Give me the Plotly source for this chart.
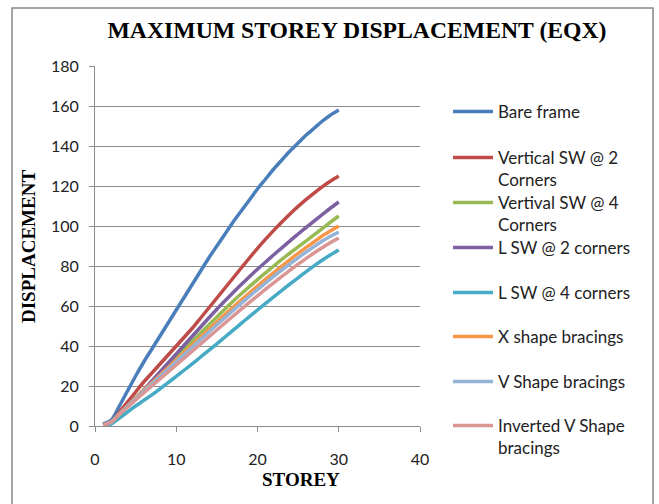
import plotly.graph_objects as go

storey = list(range(1, 31))

bare_frame = [1, 3, 10, 17.5, 25, 32, 38.5, 45, 51.5, 58, 64.5, 71, 77.5, 84, 90, 96, 102, 107.5, 113, 118.5,
              123.5, 128.5, 133, 137.5, 141.5, 145.5, 149, 152.5, 155.5, 158]
vert_sw_2 = [0.5, 2, 7, 12, 17, 22, 26.5, 31, 35.5, 40, 44.5, 49, 54, 59, 64, 69, 74, 79, 84, 88.8,
             93.4, 97.8, 102, 106, 109.8, 113.3, 116.6, 119.7, 122.5, 125]
vert_sw_4 = [0.5, 2, 6, 10, 14, 18, 22, 26, 30, 34.3, 38.4, 42.5, 46.5, 50.5, 54.5, 58.5, 62.4, 66.1, 69.7, 73.2,
             76.6, 80, 83.3, 86.5, 89.6, 92.6, 95.7, 98.8, 102, 105]
l_sw_2 = [0.5, 2, 6, 10, 14, 18, 22.5, 27, 31.5, 36, 40.5, 45, 49.5, 54, 58.4, 62.6, 66.7, 70.7, 74.6, 78.4,
          82, 85.6, 89.1, 92.6, 96, 99.3, 102.6, 105.8, 109, 112]
l_sw_4 = [0, 1, 4, 7, 10, 12.8, 15.6, 18.6, 21.7, 24.8, 28, 31.2, 34.5, 37.8, 41.1, 44.5, 47.9, 51.3, 54.7, 58,
          61.3, 64.6, 67.8, 71, 74.1, 77.2, 80.2, 83, 85.6, 88]
x_brace = [0.5, 2, 6, 10, 14, 17.8, 21.6, 25.4, 29.2, 33, 36.8, 40.6, 44.4, 48.2, 52, 55.7, 59.4, 63, 66.5, 70,
           73.4, 76.7, 80, 83.2, 86.3, 89.3, 92.2, 95.1, 97.6, 100]
v_brace = [0.5, 2, 6, 9.8, 13.6, 17.3, 21, 24.7, 28.4, 32.1, 35.8, 39.5, 43.2, 46.9, 50.6, 54.2, 57.8, 61.3, 64.8, 68.2,
           71.5, 74.8, 78, 81.1, 84.1, 87, 89.8, 92.5, 94.9, 97]
inv_v_brace = [0.5, 2, 5.8, 9.4, 13, 16.5, 20, 23.5, 27, 30.5, 34, 37.5, 41, 44.5, 48, 51.5, 55, 58.4, 61.8, 65.1,
               68.4, 71.6, 74.8, 77.9, 80.9, 83.8, 86.6, 89.2, 91.7, 94]

series_names = ["Bare frame", "Vertical SW @ 2<br>Corners", "Vertival SW @ 4<br>Corners",
                "L SW @ 2 corners", "L SW @ 4 corners", "X shape bracings",
                "V Shape bracings", "Inverted V Shape<br>bracings"]
series_values = [bare_frame, vert_sw_2, vert_sw_4, l_sw_2, l_sw_4, x_brace, v_brace, inv_v_brace]
colors = ["#4A7EBB", "#BE4B48", "#98B954", "#7D60A0", "#46AAC5", "#F79646", "#95B3D7", "#D99694"]

title_text = "MAXIMUM STOREY DISPLACEMENT (EQX)"
x_title = "STOREY"
y_title = "DISPLACEMENT"

# plot-area pixel geometry (for converting paper coords)
L, R, T, B = 95, 420, 66, 426
W, H = 659, 504

def px(x):
    return (x - L) / (R - L)

def py(y):
    return (B - y) / (B - T)

legend_line_y = [111, 157, 202, 247, 292, 336, 381, 425]

fig = go.Figure()
for i, (name, vals, col) in enumerate(zip(series_names, series_values, colors)):
    lg = "legend" if i == 0 else f"legend{i+1}"
    fig.add_trace(go.Scatter(x=storey, y=vals, name=name, mode="lines",
                             line=dict(color=col, width=3.5, shape="spline", smoothing=0.8),
                             legend=lg, showlegend=True))

leg_font = dict(family="Lato, Calibri, sans-serif", size=17, color="#222222")
layout_legends = {}
for i, ly in enumerate(legend_line_y):
    key = "legend" if i == 0 else f"legend{i+1}"
    layout_legends[key] = dict(x=px(448), y=py(ly - 17), xanchor="left", yanchor="top",
                               bgcolor="rgba(0,0,0,0)", font=leg_font, valign="top",
                               itemwidth=40, tracegroupgap=0)

tick_font = dict(family="Lato, Calibri, sans-serif", size=16, color="#222222")

fig.update_layout(
    width=W, height=H,
    margin=dict(l=L, r=W - R, t=T, b=H - B),
    paper_bgcolor="white", plot_bgcolor="white",
    title=dict(text="<b>" + title_text + "</b>", x=357 / W, xanchor="center",
               y=1 - 30 / H, yanchor="middle",
               font=dict(family="Liberation Serif, Times New Roman, serif", size=23.7, color="black")),
    xaxis=dict(range=[0, 40], dtick=10, showgrid=False, showline=True, linecolor="#8C8C8C",
               linewidth=1, ticks="outside", ticklen=5, tickcolor="#8C8C8C", zeroline=False,
               tickfont=tick_font, ticklabelstandoff=14),
    yaxis=dict(range=[0, 180], dtick=20, showgrid=True, gridcolor="#8C8C8C", gridwidth=1,
               showline=True, linecolor="#8C8C8C", linewidth=1, ticks="outside", ticklen=5,
               tickcolor="#8C8C8C", zeroline=False, tickfont=tick_font, ticklabelstandoff=7),
    annotations=[
        dict(text="<b>" + x_title + "</b>", xref="paper", yref="paper", x=px(301), y=py(480),
             xanchor="center", yanchor="middle", showarrow=False,
             font=dict(family="Liberation Serif, Times New Roman, serif", size=19, color="black")),
        dict(text="<b>" + y_title + "</b>", xref="paper", yref="paper", x=px(28), y=py(247),
             xanchor="center", yanchor="middle", showarrow=False, textangle=-90,
             font=dict(family="Liberation Serif, Times New Roman, serif", size=19, color="black")),
    ],
    shapes=[dict(type="rect", xref="paper", yref="paper", x0=px(12), x1=px(653),
                 y0=py(520), y1=py(8), line=dict(color="#868686", width=1.5), layer="below")],
    **layout_legends,
)

fig.write_html("out.html")
